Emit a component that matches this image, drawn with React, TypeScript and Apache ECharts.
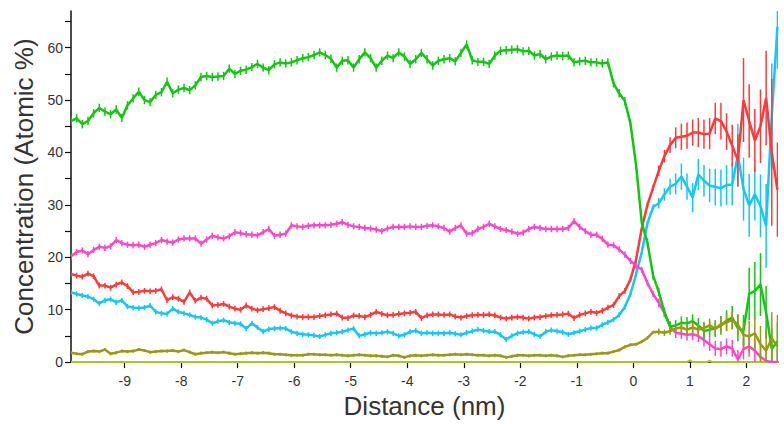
import React, { useEffect, useRef } from "react";
import * as echarts from "echarts";

// Sampling positions along the profile (nm): first sample and spacing.
const DIST_START = -9.95;
const DIST_STEP = 0.1;

// Concentration profiles (atomic %), one value per sample.
const green = [
  46.0, 46.5, 45.4, 46.0, 47.5, 48.5, 47.8, 47.3, 48.2, 46.6,
  49.0, 50.3, 51.6, 50.0, 49.6, 51.0, 51.5, 53.5, 51.3, 52.0,
  52.3, 51.9, 52.8, 54.4, 54.6, 54.4, 54.5, 54.6, 56.0, 55.0,
  55.6, 55.8, 56.3, 56.9, 56.2, 55.7, 56.8, 57.2, 57.0, 57.2,
  57.6, 58.0, 58.2, 58.6, 59.1, 58.6, 57.9, 56.2, 57.5, 57.6,
  56.2, 57.8, 59.1, 58.0, 56.2, 57.5, 58.5, 58.0, 59.1, 58.3,
  56.9, 57.8, 59.0, 57.8, 56.6, 57.5, 57.8, 58.0, 57.4, 59.0,
  60.6, 57.6, 57.3, 57.3, 56.9, 58.5, 59.4, 59.5, 59.6, 59.7,
  59.3, 59.4, 58.5, 58.8, 57.8, 58.3, 58.5, 58.4, 58.5, 57.2,
  57.4, 57.5, 57.2, 57.2, 57.0, 57.2, 53.2, 51.3, 49.8, 45.5,
  37.5, 26.5, 22.8, 16.5, 13.4, 9.5, 6.8, 7.0, 7.5, 7.4,
  7.8, 7.0, 5.9, 6.2, 6.4, 7.0, 7.9, 8.5, 6.5, 6.0,
  13.0, 13.6, 14.8, 9.5, 2.5, 4.0,
];
const magenta = [
  20.2, 21.0, 21.3, 20.6, 21.4, 22.0, 21.8, 22.1, 23.3, 22.7,
  22.4, 22.3, 22.4, 22.0, 22.4, 22.7, 23.3, 23.0, 22.8, 23.4,
  23.6, 23.6, 23.6, 22.6, 23.4, 24.1, 23.8, 23.6, 24.0, 24.8,
  24.6, 24.4, 24.3, 24.2, 24.8, 25.4, 24.1, 24.3, 24.5, 26.1,
  25.9, 25.8, 26.0, 26.1, 26.1, 26.1, 26.2, 26.4, 26.7, 26.2,
  25.9, 25.8, 25.6, 25.5, 25.3, 25.0, 25.5, 25.8, 25.8, 25.8,
  25.9, 25.8, 25.8, 26.0, 26.1, 25.9, 25.6, 24.9, 25.6, 26.1,
  24.5, 24.6, 25.4, 25.8, 26.4, 25.9, 25.4, 25.2, 24.9, 24.5,
  24.7, 25.4, 25.8, 25.6, 25.4, 25.4, 25.4, 25.4, 25.6, 26.9,
  25.8, 25.0, 24.3, 24.3, 23.5, 22.4, 22.3, 21.5, 20.5, 19.3,
  18.4, 17.6, 15.1, 13.0, 11.3, 9.4, 6.8, 5.6, 5.4, 5.2,
  5.3, 5.0, 4.2, 3.4, 2.6, 2.5, 3.0, 2.6, 0.5, 2.5,
  3.0, 2.2, 1.0, 0.2, 0.0, 0.0,
];
const red = [
  16.8, 16.5, 16.3, 16.9, 16.4, 14.6, 14.6, 14.2, 14.8, 15.2,
  14.5, 13.3, 13.4, 13.6, 13.5, 13.6, 13.9, 11.8, 12.4, 12.1,
  11.5, 13.3, 11.7, 12.3, 12.1, 10.8, 10.9, 11.1, 10.6, 10.2,
  10.0, 10.8, 10.2, 9.9, 10.1, 10.3, 10.5, 9.8, 9.3, 8.9,
  8.7, 8.6, 8.6, 8.6, 8.8, 8.95, 9.1, 9.25, 8.5, 8.4,
  8.9, 8.8, 8.6, 9.0, 9.6, 9.2, 8.95, 9.0, 9.2, 9.3,
  9.4, 9.6, 8.4, 8.9, 9.1, 9.1, 9.0, 9.1, 8.7, 8.5,
  8.8, 8.95, 9.0, 9.0, 9.1, 8.9, 8.5, 8.3, 8.5, 8.6,
  8.5, 8.3, 8.5, 8.6, 8.8, 8.95, 9.0, 9.1, 9.25, 8.4,
  9.0, 9.3, 9.6, 9.4, 9.8, 10.4, 10.9, 12.6, 13.6, 15.8,
  19.6, 25.6, 30.0, 33.3, 36.5, 39.3, 41.4, 42.8, 43.0, 43.2,
  43.8, 43.8, 43.5, 43.6, 46.5, 46.0, 44.0, 41.3, 38.5, 50.0,
  46.0, 42.3, 45.0, 50.4, 40.0, 32.9,
];
const cyan = [
  13.3, 13.0, 12.7, 12.5, 12.0, 11.2, 11.8, 12.0, 11.4, 11.8,
  10.6, 10.4, 10.3, 10.4, 10.8, 9.6, 9.3, 9.2, 10.2, 9.6,
  9.3, 9.0, 8.6, 8.5, 8.1, 7.4, 7.8, 8.0, 7.6, 7.4,
  7.3, 6.4, 7.4, 6.6, 5.8, 6.3, 6.4, 6.5, 6.4, 5.8,
  5.5, 5.3, 5.2, 5.1, 4.9, 5.2, 5.5, 5.6, 5.8, 6.1,
  6.4, 5.0, 5.3, 5.6, 5.5, 5.6, 5.8, 5.5, 5.0, 5.2,
  5.8, 6.0, 5.5, 5.6, 5.5, 5.5, 5.5, 5.6, 5.4, 5.2,
  5.6, 5.9, 6.2, 6.0, 5.8, 5.8, 5.2, 4.3, 5.0, 5.5,
  5.7, 5.8, 5.3, 4.9, 5.8, 6.1, 5.9, 5.7, 5.3, 5.6,
  5.9, 6.2, 6.5, 6.5, 7.1, 7.6, 8.1, 9.0, 10.5, 13.0,
  16.8, 21.0, 26.5, 29.6, 30.3, 32.0, 33.5, 34.0, 35.4, 33.5,
  31.4, 35.8, 34.6, 33.7, 33.4, 33.2, 33.8, 33.9, 39.5, 33.0,
  29.9, 32.0, 29.8, 26.0, 47.0, 64.0,
];
const olive = [
  1.8, 1.6, 1.5, 2.0, 2.1, 2.0, 2.4, 1.6, 1.8, 2.1,
  2.0, 2.1, 2.4, 2.2, 1.9, 2.0, 2.1, 2.1, 2.2, 2.0,
  2.3, 1.9, 1.5, 1.7, 1.8, 1.9, 1.8, 1.9, 1.7, 1.5,
  1.6, 1.7, 1.8, 1.7, 1.8, 1.7, 1.5, 1.5, 1.4, 1.3,
  1.3, 1.3, 1.5, 1.5, 1.4, 1.4, 1.3, 1.4, 1.3, 1.2,
  1.3, 1.4, 1.3, 1.2, 1.2, 1.1, 1.0, 1.3, 1.2, 0.9,
  1.2, 1.3, 1.2, 1.3, 1.4, 1.3, 1.3, 1.4, 1.5, 1.4,
  1.5, 1.4, 1.3, 1.3, 1.2, 1.3, 1.2, 0.9, 1.1, 1.3,
  1.3, 1.2, 1.3, 1.3, 1.2, 1.3, 1.2, 1.0, 1.2, 1.3,
  1.4, 1.4, 1.5, 1.6, 1.7, 1.7, 2.0, 2.3, 2.9, 3.3,
  3.4, 3.9, 4.6, 5.7, 5.8, 5.6, 5.9, 6.4, 6.6, 6.2,
  6.6, 6.2, 6.5, 7.0, 6.4, 7.2, 7.6, 8.0, 7.2, 5.2,
  4.9, 5.5, 3.4, 2.2, 4.5, 3.0,
];
// Trace element sitting on the baseline: [distance, concentration].
const baseline = [
  [-9.95, 0], [0.95, 0], [1.0, 0.35], [1.05, 0], [1.3, 0], [1.35, 0.3], [1.4, 0], [2.56, 0],
];

// Error-bar half heights: flat-region value, then the samples from 0.45 nm on.
const TAIL_START = 104;
const greenErr = 0.8;
const greenErrTail = [0.8, 0.9, 1.0, 1.0, 1.2, 1.2, 1.3, 1.4, 1.5, 1.5, 1.6, 1.8, 2.0, 2.2, 2.5, 3.0, 5.0, 5.5, 6.0, 5.0, 4.0, 3.5];
const magentaErr = 0.6;
const magentaErrTail = [0.8, 0.8, 0.9, 1.0, 1.0, 1.1, 1.1, 1.2, 1.2, 1.3, 1.4, 1.5, 1.5, 1.6, 1.8, 2.0, 2.0, 2.2, 2.2, 2.5, 2.5, 2.5];
const redErr = 0.55;
const redErrTail = [1.0, 1.2, 1.5, 2.0, 2.5, 2.5, 2.5, 2.8, 2.8, 3.0, 3.0, 3.5, 3.5, 4.0, 5.0, 8.0, 7.0, 6.0, 7.0, 9.0, 14.0, 9.0];
const cyanErr = 0.5;
const cyanErrTail = [1.0, 1.2, 1.5, 2.0, 2.5, 2.5, 2.8, 3.0, 3.0, 3.2, 3.5, 3.5, 3.8, 4.0, 6.0, 6.0, 6.0, 5.0, 6.0, 8.0, 10.0, 8.0];
const oliveErr = 0.3;
const oliveErrTail = [0.6, 0.6, 0.7, 0.8, 0.9, 1.0, 1.0, 1.1, 1.2, 1.3, 1.4, 1.5, 1.6, 1.8, 2.0, 2.5, 3.0, 3.0, 3.5, 4.0, 5.0, 6.0];

// Axis tick positions and labels.
const xTicks = [-9, -8, -7, -6, -5, -4, -3, -2, -1, 0, 1, 2];
const yLabels = [0, 10, 20, 30, 40, 50, 60];
const yTicks = [0, 5, 10, 15, 20, 25, 30, 35, 40, 45, 50, 55, 60, 65];

const FONT = "'Liberation Sans', Arial, Helvetica, sans-serif";

type Profile = { name: string; color: string; values: number[]; err: number; errTail: number[] };

const profiles: Profile[] = [
  { name: "cyan", color: "#12c8f8", values: cyan, err: cyanErr, errTail: cyanErrTail },
  { name: "red", color: "#ff3838", values: red, err: redErr, errTail: redErrTail },
  { name: "magenta", color: "#ff44cc", values: magenta, err: magentaErr, errTail: magentaErrTail },
  { name: "green", color: "#11c811", values: green, err: greenErr, errTail: greenErrTail },
  { name: "olive", color: "#9a9a10", values: olive, err: oliveErr, errTail: oliveErrTail },
];

function distanceAt(i: number) {
  return Math.round((DIST_START + i * DIST_STEP) * 100) / 100;
}

function buildSeries() {
  const out: any[] = [
    {
      type: "line",
      name: "baseline",
      data: baseline,
      showSymbol: false,
      lineStyle: { color: "#a8c81e", width: 2 },
      z: 1,
    },
  ];
  profiles.forEach((p, k) => {
    const line = p.values.map((v, i) => [distanceAt(i), v]);
    const bars = p.values.map((v, i) => {
      const e = i >= TAIL_START ? p.errTail[i - TAIL_START] : p.err;
      return [distanceAt(i), v - e, v + e];
    });
    out.push({
      type: "custom",
      name: p.name + " error",
      data: bars,
      clip: true,
      encode: { x: 0, y: [1, 2] },
      z: 2 + k * 2,
      renderItem: (_params: any, api: any) => {
        const a = api.coord([api.value(0), api.value(1)]);
        const b = api.coord([api.value(0), api.value(2)]);
        return {
          type: "line",
          shape: { x1: a[0], y1: a[1], x2: b[0], y2: b[1] },
          style: { stroke: p.color, lineWidth: 1.5 },
        };
      },
    });
    out.push({
      type: "line",
      name: p.name,
      data: line,
      showSymbol: false,
      clip: true,
      lineStyle: { color: p.color, width: 2.5 },
      z: 3 + k * 2,
    });
  });
  return out;
}

export default function App() {
  const ref = useRef<HTMLDivElement>(null);

  useEffect(() => {
    if (!ref.current) return;
    const chart = echarts.init(ref.current, undefined, { renderer: "svg" });
    chart.setOption({
      animation: false,
      backgroundColor: "#ffffff",
      grid: { left: 71, right: 6, top: 11, bottom: 54.5, containLabel: false },
      xAxis: {
        type: "value",
        min: -9.95,
        max: 2.56,
        name: "Distance (nm)",
        nameLocation: "middle",
        nameGap: 26,
        nameTextStyle: { fontFamily: FONT, fontSize: 26, color: "#333" },
        splitLine: { show: false },
        axisLine: { show: true, onZero: false, lineStyle: { color: "#111", width: 1.5 } },
        axisTick: { show: true, customValues: xTicks, length: 6, lineStyle: { color: "#111", width: 1.2 } },
        axisLabel: { customValues: xTicks, margin: 12, fontFamily: FONT, fontSize: 14, color: "#333" },
      },
      yAxis: {
        type: "value",
        min: 0,
        max: 67,
        name: "Concentration (Atomic %)",
        nameLocation: "middle",
        nameGap: 32,
        nameTextStyle: { fontFamily: FONT, fontSize: 26, color: "#333" },
        splitLine: { show: false },
        axisLine: { show: true, onZero: false, lineStyle: { color: "#111", width: 1.5 } },
        axisTick: { show: true, customValues: yTicks, length: 6, lineStyle: { color: "#111", width: 1.2 } },
        axisLabel: { customValues: yLabels, margin: 8, fontFamily: FONT, fontSize: 14, color: "#333" },
      },
      series: buildSeries(),
    });
    return () => chart.dispose();
  }, []);

  return (
    <div
      ref={ref}
      style={{ position: "absolute", left: 0, top: 0, width: 784, height: 424, overflow: "hidden" }}
    />
  );
}
